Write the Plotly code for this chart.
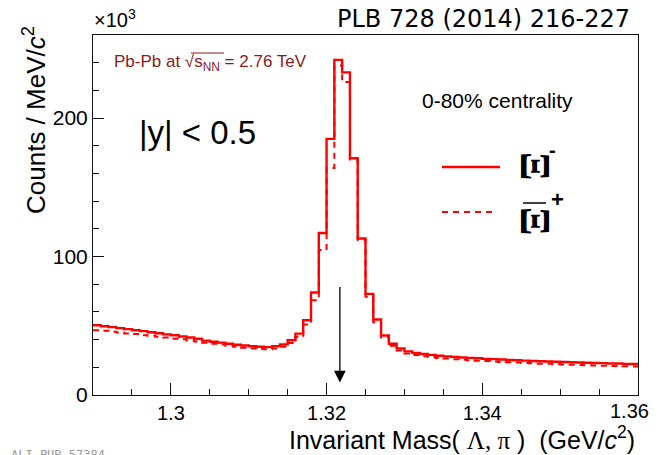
import numpy as np
import plotly.graph_objects as go

# ---------------- data (counts in units of 10^3 per MeV/c^2) ----------------
mass_min = 1.290          # GeV/c^2, lower edge of first bin
bin_width = 0.001         # GeV/c^2
counts_xi_minus = [
    50.4, 49.7, 49.0, 48.3, 47.6, 46.8, 46.1, 45.3, 44.6, 43.8,
    43.1, 42.3, 41.5, 40.6, 39.3, 38.5, 37.8, 37.0, 36.3, 35.7,
    35.2, 34.8, 34.6, 35.3, 36.5, 39.5, 44.3, 54.0, 74.0, 117.0,
    185.0, 242.0, 233.0, 171.0, 113.0, 73.0, 54.5, 43.0, 37.0, 33.7,
    31.5, 30.4, 29.6, 29.0, 28.4, 27.9, 27.5, 27.1, 26.8, 26.5,
    26.1, 25.9, 25.6, 25.3, 25.1, 24.8, 24.6, 24.4, 24.2, 24.0,
    23.8, 23.6, 23.5, 23.3, 23.1, 23.0, 22.8, 22.7, 22.5, 22.4,
]
counts_xi_plus_bar = [
    46.8, 46.4, 45.7, 45.2, 44.5, 44.0, 43.2, 42.8, 42.0, 41.5,
    40.7, 40.2, 39.4, 38.6, 37.8, 37.0, 36.4, 35.6, 34.9, 34.2,
    33.6, 33.2, 33.0, 33.5, 34.8, 37.5, 42.0, 51.0, 68.5, 104.7,
    164.0, 238.0, 226.0, 170.0, 112.0, 71.0, 52.5, 41.5, 35.5, 32.2,
    30.0, 28.8, 28.0, 27.4, 26.8, 26.3, 25.9, 25.5, 25.1, 24.8,
    24.5, 24.2, 23.9, 23.6, 23.4, 23.1, 22.9, 22.6, 22.5, 22.2,
    22.1, 21.8, 21.7, 21.5, 21.3, 21.2, 21.0, 20.9, 20.7, 20.6,
]
xi_pdg_mass = 1.32171     # arrow position
arrow_from, arrow_to = 79, 9
x_tick_vals = [1.30, 1.32, 1.34, 1.36]
x_tick_text = ["1.3", "1.32", "1.34", "1.36"]
y_tick_vals = [0, 100, 200]
y_tick_text = ["0", "100", "200"]

edges = mass_min + bin_width * np.arange(len(counts_xi_minus) + 1)

RED = "#ff0000"
SANS = "Liberation Sans, Arial, Helvetica, sans-serif"

# plot area in window pixels (page body has an 8px margin on every side)
PL, PR, PT, PB = 93, 638, 35, 395
W, H = PR - PL, PB - PT
BODY = 8
FIG_W, FIG_H = 660 - 2 * BODY, 455 - BODY


def px(xp):
    return (xp - PL) / W


def py(yp):
    return (PB - yp) / H


fig = go.Figure()
fig.add_trace(go.Scatter(
    x=edges, y=counts_xi_minus + [counts_xi_minus[-1]], mode="lines",
    line=dict(color=RED, width=2.4, shape="hv"), name="Ξ-", showlegend=False,
))
fig.add_trace(go.Scatter(
    x=edges, y=counts_xi_plus_bar + [counts_xi_plus_bar[-1]], mode="lines",
    line=dict(color=RED, width=2, shape="hv", dash="6px,5px"), name="anti-Ξ+", showlegend=False,
))

axis_common = dict(
    showgrid=False, zeroline=False, showline=True, linecolor="#111", linewidth=1,
    mirror=True, ticks="inside", tickcolor="#111", tickwidth=1, automargin=False,
)
# the last x label sits at the page edge; it is drawn as an annotation below
fig.update_xaxes(
    range=[1.29, 1.36], tickvals=x_tick_vals, ticktext=x_tick_text[:-1] + [""], ticklen=12,
    tickfont=dict(family=SANS, size=20, color="black"),
    minor=dict(dtick=0.005, tick0=1.29, ticklen=6, ticks="inside", tickcolor="#111", showgrid=False),
    **axis_common,
)
fig.update_yaxes(
    range=[0, 260], tickvals=y_tick_vals, ticktext=y_tick_text, ticklen=11,
    tickfont=dict(family=SANS, size=21, color="black"),
    minor=dict(dtick=20, tick0=0, ticklen=6, ticks="inside", tickcolor="#111", showgrid=False),
    **axis_common,
)

annotations = [
    dict(text=x_tick_text[-1], x=px(651), y=py(411), xref="paper", yref="paper",
         xanchor="right", yanchor="middle", showarrow=False,
         font=dict(family=SANS, size=20, color="black")),
    dict(text="PLB 728 (2014) 216-227", x=px(483), y=py(19), xref="paper", yref="paper",
         xanchor="center", yanchor="middle", showarrow=False,
         font=dict(family="DejaVu Sans", size=24, color="black")),
    dict(text="×10<sup>3</sup>", x=px(92), y=py(33), xref="paper", yref="paper",
         xanchor="left", yanchor="bottom", showarrow=False,
         font=dict(family=SANS, size=20, color="black")),
    dict(text="Pb-Pb at √s<sub>NN</sub> = 2.76 TeV", x=px(112), y=py(63), xref="paper", yref="paper",
         xanchor="left", yanchor="middle", showarrow=False,
         font=dict(family=SANS, size=17, color="#8b1a1a")),
    dict(text="|y| < 0.5", x=px(137), y=py(132), xref="paper", yref="paper",
         xanchor="left", yanchor="middle", showarrow=False,
         font=dict(family=SANS, size=33, color="black")),
    dict(text="0-80% centrality", x=px(420), y=py(100), xref="paper", yref="paper",
         xanchor="left", yanchor="middle", showarrow=False,
         font=dict(family=SANS, size=21, color="black")),
    # legend labels (Ξ glyph drawn rotated as in the original)
    dict(text="<b>Ξ</b>", x=px(535), y=py(166), xref="paper", yref="paper",
         xanchor="center", yanchor="middle", showarrow=False, textangle=90,
         font=dict(family="Liberation Serif", size=42, color="black")),
    dict(text="<b>-</b>", x=px(552), y=py(150), xref="paper", yref="paper",
         xanchor="center", yanchor="middle", showarrow=False,
         font=dict(family=SANS, size=20, color="black")),
    dict(text="<b>Ξ</b>", x=px(535), y=py(221), xref="paper", yref="paper",
         xanchor="center", yanchor="middle", showarrow=False, textangle=90,
         font=dict(family="Liberation Serif", size=42, color="black")),
    dict(text="<b>+</b>", x=px(557), y=py(199), xref="paper", yref="paper",
         xanchor="center", yanchor="middle", showarrow=False,
         font=dict(family=SANS, size=22, color="black")),
    # axis titles
    dict(text="Counts / MeV/<i>c</i><sup>2</sup>", x=px(34), y=py(24), xref="paper", yref="paper",
         xanchor="center", yanchor="top", showarrow=False, textangle=-90,
         font=dict(family=SANS, size=26, color="black")),
    dict(text="Invariant Mass( <span style='font-family:Liberation Serif'>Λ, π</span> )  (GeV/<i>c</i><sup>2</sup>)",
         x=px(462), y=py(438), xref="paper", yref="paper",
         xanchor="center", yanchor="middle", showarrow=False,
         font=dict(family=SANS, size=25, color="black")),
    # watermark
    dict(text="ALI−PUB−57384", x=px(9), y=py(446), xref="paper", yref="paper",
         xanchor="left", yanchor="top", showarrow=False,
         font=dict(family="DejaVu Sans Mono", size=12, color="#999")),
    # arrow at nominal mass
    dict(x=xi_pdg_mass, y=arrow_to, ax=xi_pdg_mass, ay=arrow_from, xref="x", yref="y",
         axref="x", ayref="y", showarrow=True, arrowhead=2, arrowsize=1.8, arrowwidth=1.3,
         arrowcolor="black", text=""),
]

shapes = [
    # legend samples
    dict(type="line", xref="paper", yref="paper", x0=px(442), x1=px(500),
         y0=py(167), y1=py(167), line=dict(color=RED, width=2.4)),
    dict(type="line", xref="paper", yref="paper", x0=px(442), x1=px(497),
         y0=py(212), y1=py(212), line=dict(color=RED, width=2, dash="6px,5px")),
    # bar over anti-Xi
    dict(type="line", xref="paper", yref="paper", x0=px(523), x1=px(546),
         y0=py(203), y1=py(203), line=dict(color="black", width=1.5)),
    # radical bar over s_NN
    dict(type="line", xref="paper", yref="paper", x0=px(191), x1=px(224),
         y0=py(53), y1=py(53), line=dict(color="#8b1a1a", width=1)),
]

fig.update_layout(
    width=FIG_W, height=FIG_H,
    margin=dict(l=PL - BODY, r=(660 - BODY) - PR, t=PT - BODY, b=455 - PB),
    plot_bgcolor="white", paper_bgcolor="white",
    annotations=annotations, shapes=shapes, showlegend=False,
)

fig.write_html("out.html")
